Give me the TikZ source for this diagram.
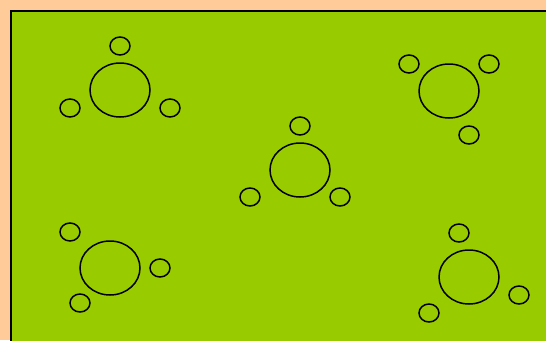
\documentclass[tikz,border=0pt]{standalone}
\usepackage{xcolor}
\usepackage{tikz}

\definecolor{peach}{HTML}{FFCC99}
\definecolor{lawn}{HTML}{99CC00}

\begin{document}
\begin{tikzpicture}[x=1pt,y=-1pt,line width=1.5pt]
\path[use as bounding box] (0,0) rectangle (546,340);
\clip (0,0) rectangle (546,340);

% background and floor
\fill[peach] (0,0) rectangle (546,340);
\draw[fill=lawn,line width=2pt] (11,11) rectangle (560,360);

% tables
\foreach \tx/\ty in {120/90, 449/91, 300/170, 110/268, 469/277}{
  \draw (\tx,\ty) ellipse (30 and 27);
}

% chairs
\foreach \cx/\cy in {120/46, 70/108, 170/108,
                     409/64, 489/64, 469/135,
                     300/126, 250/197, 340/197,
                     70/232, 160/268, 80/303,
                     459/233, 519/295, 429/313}{
  \draw (\cx,\cy) ellipse (10 and 9);
}
\end{tikzpicture}
\end{document}
